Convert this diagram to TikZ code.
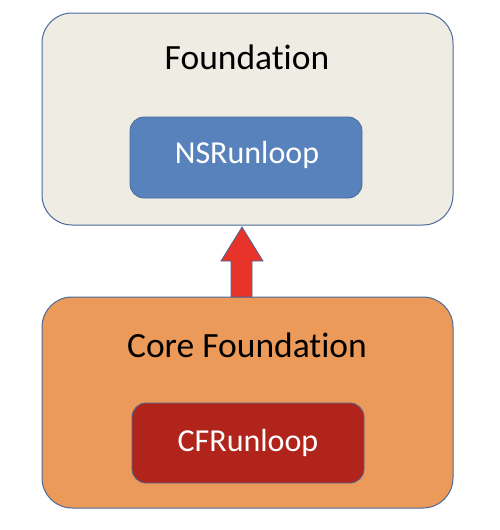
\documentclass[tikz,border=0pt]{standalone}
\usepackage{fontspec}
\setmainfont{Carlito}[RawFeature={-liga;-clig;-dlig}]
\definecolor{outline}{HTML}{4A6A9C}
\definecolor{fndfill}{HTML}{EEECE3}
\definecolor{nsfill}{HTML}{5882BB}
\definecolor{cffill}{HTML}{EB9A5A}
\definecolor{cfinner}{HTML}{B0241B}
\definecolor{arrowred}{HTML}{E8332A}
\begin{document}
\begin{tikzpicture}[x=1pt,y=1pt,
  outer/.style={draw=outline,line width=1pt,rounded corners=30pt},
  inner/.style={draw=outline,line width=0.8pt,rounded corners=14pt},
  title/.style={font=\fontsize{35.5}{40}\selectfont,text=black,anchor=base},
  ltext/.style={font=\fontsize{32}{36}\selectfont,text=white,anchor=base}]
\useasboundingbox (0,0) rectangle (500,-530);
\fill[white] (0,0) rectangle (500,-530);
% top box
\draw[outer,fill=fndfill] (42,-13) rectangle (453,-225);
\node[title] (fnd) at (247,-69) {Foundation};
\draw[inner,fill=nsfill] (130,-117) rectangle (362,-198);
\node[ltext] (ns) at (247,-163) {NSRunloop};
% bottom box
\draw[outer,fill=cffill] (42,-297) rectangle (453,-508);
\node[title] (cf) at (247,-357) {Core Foundation};
\draw[inner,fill=cfinner] (132,-403) rectangle (364,-483);
\node[ltext] (cfr) at (248,-451) {CFRunloop};
% arrow
\draw[draw=outline,line width=0.8pt,fill=arrowred,line join=miter]
  (242,-227) -- (263,-261) -- (252,-261) -- (252,-297) -- (231,-297) -- (231,-261) -- (221,-261) -- cycle;
\end{tikzpicture}
\end{document}
